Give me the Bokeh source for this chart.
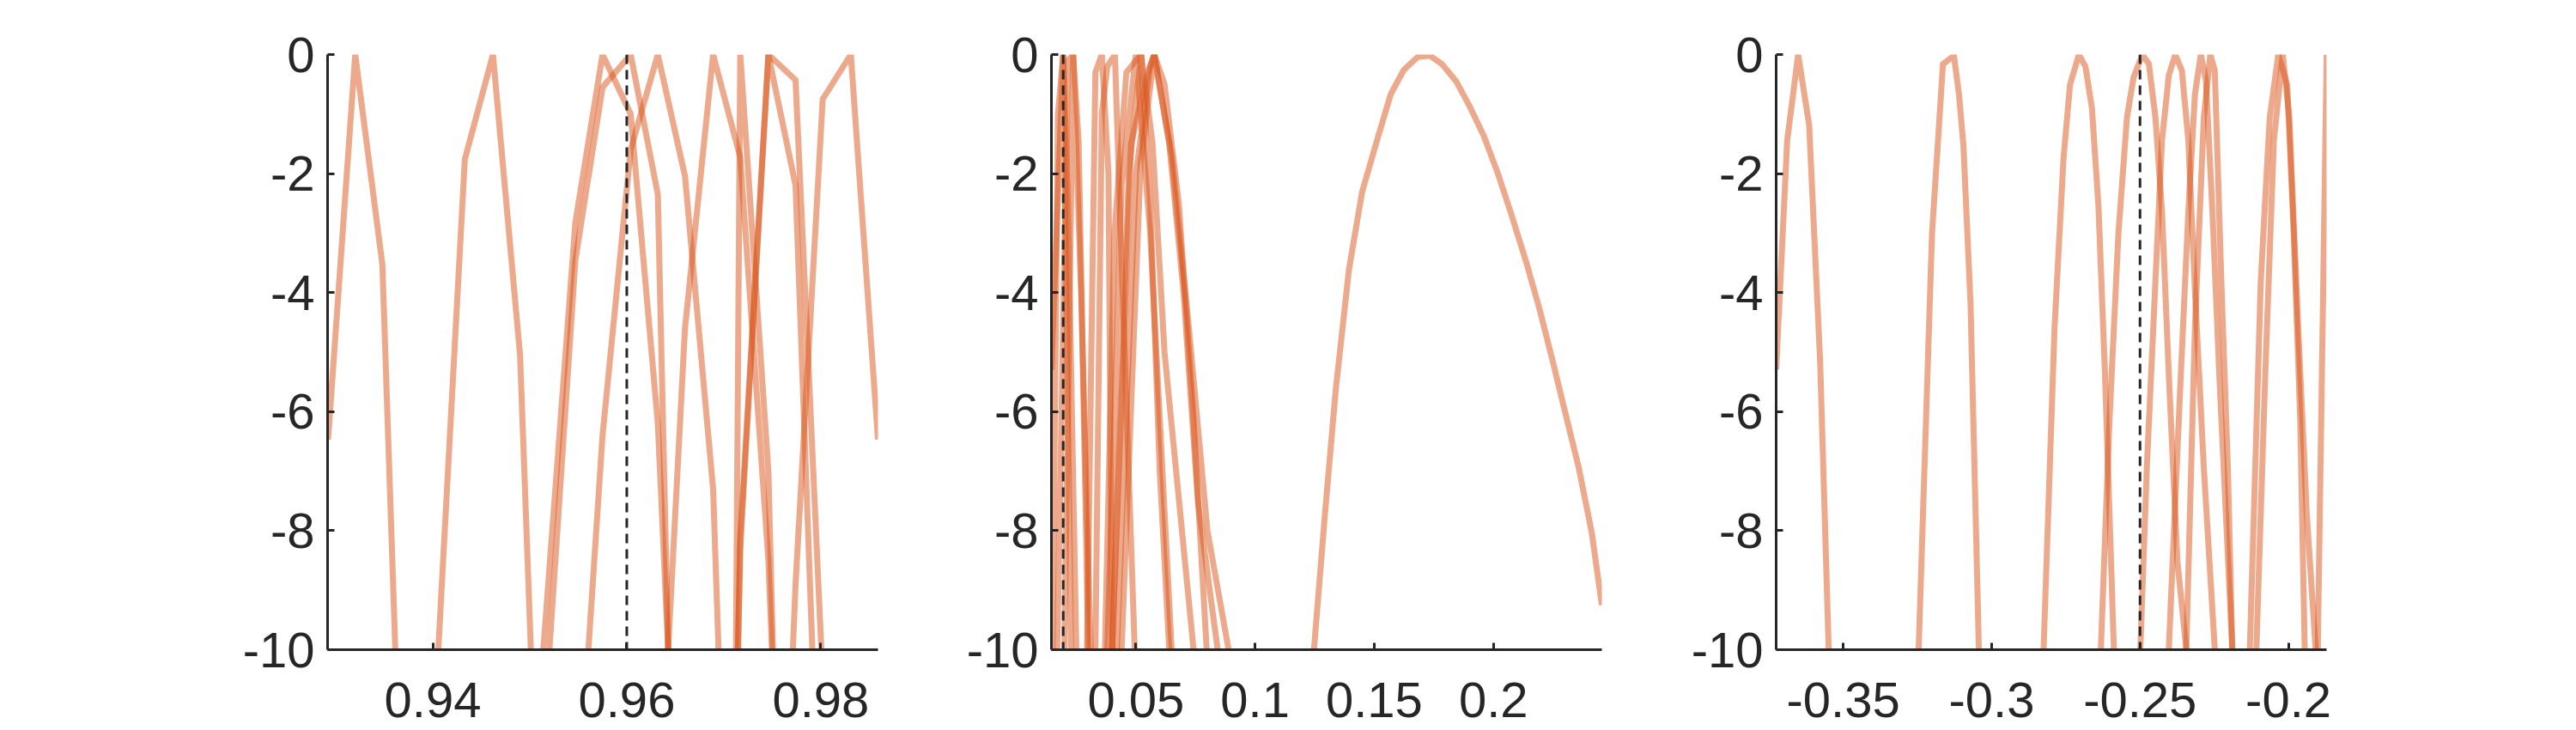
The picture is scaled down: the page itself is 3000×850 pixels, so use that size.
from bokeh.plotting import figure
from bokeh.layouts import row
from bokeh.models import Range1d, FixedTicker, Span
from bokeh.embed import file_html
from bokeh.resources import INLINE

# ---------------- data ----------------
y_ticks = [-10, -8, -6, -4, -2, 0]
y_labels = ["-10", "-8", "-6", "-4", "-2", "0"]

# panel 1
p1_xlim = (0.92915, 0.9859)
p1_truth = 0.96
p1_ticks = [0.94, 0.96, 0.98]
p1_labels = ["0.94", "0.96", "0.98"]
p1_grid = [0.9292, 0.9320, 0.9348, 0.9377, 0.9405, 0.9433, 0.9462, 0.9490, 0.9519, 0.9547,
           0.9575, 0.9604, 0.9632, 0.9660, 0.9689, 0.9717, 0.9746, 0.9774, 0.9802, 0.9831, 0.9859]
# (first grid index, values)
p1_curves = [
    (0, [-6.47, 0, -3.53, -17.6]),
    (4, [-10.2, -1.76, 0, -5.06, -18.0]),
    (7, [-15.2, -8.9, -2.82, 0, -1.0, -6.2, -16.2]),
    (8, [-10.3, -3.45, -0.55, 0, -2.35, -22.5]),
    (9, [-13.3, -6.4, -1.6, 0, -2.04, -7.3, -20.8]),
    (12, [-13.3, -4.6, 0, -1.73, -8.5, -20.0]),
    (14, [-63.0, 0, -7.0, -25.0]),
    (14, [-30.0, -8.1, 0, -0.43, -10.5]),
    (14, [-30.0, -8.3, 0, -2.2, -14.8]),
    (16, [-20.0, -8.9, -0.75, 0, -6.47]),
]

# panel 2
p2_xlim = (0.01456, 0.2455)
p2_truth = 0.0195
p2_ticks = [0.05, 0.1, 0.15, 0.2]
p2_labels = ["0.05", "0.1", "0.15", "0.2"]
p2_curves = [
    ([0.01456, 0.0195, 0.0228], [-5.3, 0, -10]),
    ([0.0150, 0.0173, 0.0195, 0.0215, 0.0250], [-10, -1.0, 0, -2.5, -10]),
    ([0.0170, 0.0215, 0.0237, 0.0260, 0.0300], [-10, -0.1, 0, -1.5, -10]),
    ([0.0200, 0.0237, 0.0270, 0.0310], [-10, 0, -4, -10]),
    ([0.0295, 0.0330, 0.0357, 0.0385, 0.0400], [-10, -0.3, 0, -2, -10]),
    ([0.0330, 0.0357, 0.0380, 0.0412, 0.0440, 0.0495], [-10, -1, -0.2, 0, -3.5, -10]),
    ([0.0370, 0.0410, 0.0460, 0.0500, 0.0522, 0.0560, 0.0600, 0.0640], [-10, -3, -0.3, -0.1, 0, -2.5, -7, -10]),
    ([0.0380, 0.0440, 0.0500, 0.0560, 0.0650], [-10, -2.2, 0, -3, -10]),
    ([0.0400, 0.0470, 0.0522, 0.0570, 0.0620, 0.0742], [-10, -2, 0, -1.5, -5, -10]),
    ([0.0400, 0.0480, 0.0550, 0.0577, 0.0620, 0.0680, 0.0740, 0.0797], [-10, -1.5, -0.3, 0, -0.5, -2.5, -6, -10]),
    ([0.0420, 0.0500, 0.0560, 0.0577, 0.0640, 0.0700, 0.0760, 0.0843], [-10, -2, -0.2, 0, -1.5, -4, -7.5, -10]),
    ([0.0440, 0.0520, 0.0577, 0.0650, 0.0720, 0.0800, 0.0889], [-10, -1.8, 0, -1.7, -4.5, -8, -10]),
    ([0.1247, 0.1293, 0.1339, 0.1394, 0.1449, 0.1514, 0.1569, 0.1624, 0.1683, 0.1734, 0.1784, 0.1844,
      0.1899, 0.1960, 0.2019, 0.2074, 0.2138, 0.2193, 0.2248, 0.2303, 0.2358, 0.2413, 0.2455],
     [-10, -7.73, -5.61, -3.61, -2.31, -1.41, -0.67, -0.26, -0.04, -0.02, -0.16, -0.45,
      -0.86, -1.37, -2.0, -2.67, -3.49, -4.27, -5.14, -6.04, -6.94, -8.04, -9.25]),
]

# panel 3
p3_xlim = (-0.37261, -0.18714)
p3_truth = -0.25
p3_ticks = [-0.35, -0.3, -0.25, -0.2]
p3_labels = ["-0.35", "-0.3", "-0.25", "-0.2"]
p3_curves = [
    ([-0.3726, -0.3689, -0.3652, -0.3615, -0.3578, -0.3549], [-5.29, -1.45, 0, -1.18, -5.14, -10]),
    ([-0.3246, -0.3201, -0.3164, -0.3127, -0.3110, -0.3095, -0.3071, -0.3043], [-10, -3.02, -0.16, -0.02, -0.67, -1.53, -4.2, -10]),
    ([-0.2825, -0.2788, -0.2758, -0.2736, -0.2706, -0.2684, -0.2662, -0.2640, -0.2618, -0.2588],
     [-10, -4.59, -1.76, -0.51, 0, -0.2, -0.9, -2.55, -5.37, -10]),
    ([-0.2632, -0.2603, -0.2573, -0.2544, -0.2522, -0.2492, -0.2470, -0.2448, -0.2426, -0.2403, -0.2374, -0.2344],
     [-10, -6.16, -3.02, -1.06, -0.39, 0, -0.16, -1.06, -2.63, -5.37, -8.51, -10]),
    ([-0.2499, -0.2477, -0.2448, -0.2426, -0.2403, -0.2381, -0.2359, -0.2337, -0.2315, -0.2285, -0.2248],
     [-10, -6.94, -3.8, -1.45, -0.35, 0, -0.27, -1.45, -3.96, -6.94, -10]),
    ([-0.2403, -0.2366, -0.2337, -0.2315, -0.2295, -0.2278, -0.2256, -0.2233, -0.2189],
     [-10, -5.76, -2.63, -0.67, 0, -0.43, -2.63, -5.37, -10]),
    ([-0.2344, -0.2315, -0.2285, -0.2263, -0.2248, -0.2226, -0.2204, -0.2189], [-10, -4.59, -1.06, 0, -0.27, -3.8, -6.94, -10]),
    ([-0.2130, -0.2093, -0.2063, -0.2034, -0.2004, -0.1982, -0.1960, -0.1945], [-10, -3.8, -1.06, 0, -0.51, -3.02, -6.16, -10]),
    ([-0.2108, -0.2078, -0.2049, -0.2019, -0.1997, -0.1967, -0.1938, -0.1908], [-10, -5.37, -1.45, 0, -1.06, -4.59, -7.73, -10]),
    ([-0.1901, -0.1871], [-10, 0]),
]

# ---------------- styling ----------------
LINE_COLOR = "#D95319"
AXIS_COLOR = "#262626"
FONT = "Liberation Sans"
FONT_SIZE = "58px"
TOP = 63
FRAME_H = 693
BOTTOM = 90


def make_panel(xlim, xticks, xlabels, curves, truth, left, right):
    p = figure(frame_width=641, frame_height=FRAME_H,
               x_range=Range1d(*xlim), y_range=Range1d(-10, 0),
               output_backend="svg", toolbar_location=None,
               min_border_left=left, min_border_right=right,
               min_border_top=TOP, min_border_bottom=BOTTOM)
    p.outline_line_color = None
    p.background_fill_color = "white"
    p.border_fill_color = "white"
    p.xgrid.visible = False
    p.ygrid.visible = False
    for xs, ys in curves:
        p.line(xs, ys, line_color=LINE_COLOR, line_alpha=0.5, line_width=7,
               line_join="miter")
    p.add_layout(Span(location=truth, dimension="height", line_color=AXIS_COLOR,
                      line_width=3, line_dash="11 7"))
    for ax in (p.xaxis[0], p.yaxis[0]):
        ax.axis_line_color = AXIS_COLOR
        ax.axis_line_width = 3
        ax.major_tick_line_color = AXIS_COLOR
        ax.major_tick_line_width = 3
        ax.major_tick_in = 8
        ax.major_tick_out = 0
        ax.minor_tick_line_color = None
        ax.major_label_text_font = FONT
        ax.major_label_text_font_size = FONT_SIZE
        ax.major_label_text_color = AXIS_COLOR
    p.xaxis.ticker = FixedTicker(ticks=xticks)
    p.xaxis.major_label_overrides = {t: l for t, l in zip(xticks, xlabels)}
    p.xaxis.major_label_standoff = 38
    p.yaxis.ticker = FixedTicker(ticks=y_ticks)
    p.yaxis.major_label_overrides = {t: l for t, l in zip(y_ticks, y_labels)}
    p.yaxis.major_label_standoff = 15
    return p


def expand(grid, curves):
    out = []
    for start, vals in curves:
        out.append((grid[start:start + len(vals)], vals))
    return out


p1 = make_panel(p1_xlim, p1_ticks, p1_labels, expand(p1_grid, p1_curves), p1_truth, 381, 20)
p2 = make_panel(p2_xlim, p2_ticks, p2_labels, p2_curves, p2_truth, 182, 20)
p3 = make_panel(p3_xlim, p3_ticks, p3_labels, p3_curves, p3_truth, 183, 40)

layout = row(p1, p2, p3)
open("out.html", "w").write(file_html(layout, INLINE))
